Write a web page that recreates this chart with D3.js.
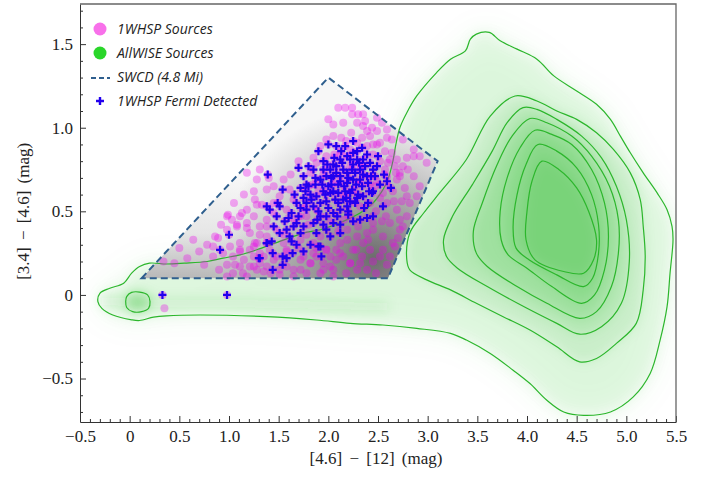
<!DOCTYPE html>
<html>
<head>
<meta charset="utf-8">
<script src="https://cdn.jsdelivr.net/npm/d3@7"></script>
<style>
body { margin: 0; background: #fff; }
.legend text { font-family: "Open Sans", sans-serif; font-style: italic; font-size: 14px; fill: #222; }
</style>
</head>
<body>
<div id="chart"></div>
<script>
// SWCD wedge vertices ([4.6]-[12], [3.4]-[4.6])
var swcd = [[0.12, 0.1], [2.0, 1.3], [3.1, 0.8], [2.6, 0.1]];

// AllWISE density contours, outermost first
var contourOuter = [[-0.30, 0.01], [-0.20, 0.04], [-0.06, 0.07], [0.02, 0.13], [0.10, 0.17], [0.20, 0.19], [0.37, 0.185],
  [0.55, 0.19], [0.78, 0.20], [0.94, 0.22], [1.11, 0.24], [1.28, 0.27], [1.51, 0.32], [1.75, 0.37], [1.92, 0.39],
  [2.15, 0.44], [2.32, 0.49], [2.45, 0.55], [2.55, 0.63], [2.60, 0.69], [2.65, 0.80], [2.68, 0.90], [2.72, 1.00],
  [2.79, 1.09], [2.89, 1.19], [3.09, 1.33], [3.23, 1.41], [3.38, 1.46], [3.43, 1.53], [3.49, 1.56], [3.62, 1.57],
  [3.73, 1.52], [3.90, 1.47], [4.10, 1.41], [4.27, 1.31], [4.50, 1.22], [4.70, 1.14], [4.84, 1.05], [4.94, 0.95],
  [5.04, 0.85], [5.17, 0.73], [5.31, 0.61], [5.41, 0.51], [5.46, 0.41], [5.47, 0.33], [5.44, 0.13], [5.41, -0.07],
  [5.34, -0.27], [5.24, -0.47], [5.07, -0.61], [4.84, -0.70], [4.57, -0.72], [4.37, -0.70], [4.20, -0.63],
  [4.03, -0.53], [3.86, -0.45], [3.63, -0.35], [3.39, -0.27], [3.23, -0.23], [2.89, -0.20], [2.55, -0.18],
  [2.22, -0.17], [1.88, -0.15], [1.38, -0.13], [0.71, -0.12], [0.37, -0.125], [0.24, -0.133], [0.10, -0.153],
  [0.02, -0.149], [-0.17, -0.12], [-0.28, -0.08], [-0.32, -0.04]];
var contourBlob = [[-0.03, -0.01], [0.02, 0.015], [0.10, 0.017], [0.18, 0.0], [0.205, -0.04], [0.19, -0.08],
  [0.12, -0.10], [0.03, -0.10], [-0.03, -0.075], [-0.04, -0.04]];
var contour2 = [[3.88, 1.19], [3.63, 1.07], [3.39, 0.81], [3.12, 0.61], [2.96, 0.49], [2.82, 0.37], [2.79, 0.21],
  [2.82, 0.15], [2.99, 0.09], [3.23, 0.03], [3.49, -0.05], [3.76, -0.13], [4.03, -0.21], [4.30, -0.31], [4.53, -0.40],
  [4.70, -0.38], [4.90, -0.29], [5.10, -0.17], [5.17, 0.03], [5.19, 0.23], [5.17, 0.41], [5.14, 0.57], [5.04, 0.73],
  [4.87, 0.87], [4.70, 0.97], [4.50, 1.05], [4.30, 1.10], [4.10, 1.16]];
var contour3 = [[3.96, 1.12], [3.80, 1.03], [3.65, 0.86], [3.45, 0.66], [3.25, 0.47], [3.16, 0.33], [3.19, 0.23],
  [3.30, 0.16], [3.60, 0.05], [4.00, -0.08], [4.30, -0.17], [4.53, -0.235], [4.75, -0.19], [4.95, -0.05],
  [5.03, 0.20], [5.00, 0.45], [4.90, 0.65], [4.75, 0.82], [4.55, 0.95], [4.30, 1.05], [4.10, 1.11]];
var contour4 = [[4.03, 1.055], [3.85, 0.95], [3.70, 0.78], [3.55, 0.55], [3.46, 0.38], [3.49, 0.25], [3.60, 0.17],
  [3.90, 0.05], [4.20, -0.05], [4.53, -0.14], [4.70, -0.10], [4.85, 0.05], [4.92, 0.25], [4.92, 0.45], [4.83, 0.65],
  [4.65, 0.83], [4.45, 0.95], [4.20, 1.03]];
var contour5 = [[4.08, 0.985], [3.93, 0.88], [3.80, 0.70], [3.73, 0.50], [3.74, 0.33], [3.81, 0.24], [4.00, 0.16],
  [4.25, 0.05], [4.55, -0.05], [4.68, 0.0], [4.78, 0.15], [4.82, 0.35], [4.78, 0.55], [4.65, 0.75], [4.45, 0.90],
  [4.25, 0.96]];
var contour6 = [[4.11, 0.90], [3.99, 0.78], [3.90, 0.60], [3.86, 0.40], [3.89, 0.28], [4.02, 0.21], [4.30, 0.12],
  [4.57, 0.05], [4.66, 0.10], [4.72, 0.25], [4.72, 0.42], [4.65, 0.60], [4.50, 0.76], [4.30, 0.86]];
var contour7 = [[4.15, 0.80], [4.05, 0.68], [4.00, 0.50], [3.99, 0.33], [4.08, 0.21], [4.37, 0.14], [4.57, 0.13],
  [4.67, 0.21], [4.70, 0.33], [4.62, 0.50], [4.50, 0.64], [4.32, 0.75]];
var contoursInner = [contour2, contour3, contour4, contour5, contour6, contour7];
// dense ridge of the stellar tail along the bottom of the plot
var tailRidge = [[-0.28, -0.04], [0.3, -0.05], [1.0, -0.05], [1.8, -0.06], [2.6, -0.07]];

// 1WHSP sources (not Fermi detected)
var whsp = [[2.10, 1.12], [2.17, 1.12], [2.24, 1.08], [2.35, 1.08], [2.37, 1.04], [2.35, 1.01], [2.39, 0.98],
  [2.42, 0.95], [2.49, 0.98], [2.54, 1.03], [2.59, 0.94], [2.64, 0.93], [2.52, 0.91], [2.45, 0.90], [2.29, 0.91],
  [2.23, 0.97], [2.18, 0.92], [2.13, 0.94], [2.22, 0.87], [2.57, 0.86], [2.64, 0.85], [2.62, 0.81], [2.69, 0.81],
  [2.67, 0.77], [2.75, 0.77], [2.72, 0.73], [2.80, 0.75], [2.86, 0.71], [2.69, 0.69], [2.59, 0.71], [2.57, 0.75],
  [2.77, 0.64], [2.65, 0.62], [2.74, 0.56], [2.59, 0.55], [2.69, 0.51], [2.79, 0.47], [2.75, 0.41], [2.72, 0.39],
  [2.62, 0.43], [2.54, 0.44], [2.45, 0.39], [2.55, 0.35], [2.65, 0.31], [2.70, 0.34], [2.67, 0.29], [2.62, 0.23],
  [2.59, 0.18], [2.52, 0.23], [2.42, 0.27], [2.35, 0.31], [2.29, 0.35], [2.19, 0.33], [2.25, 0.27], [2.34, 0.23],
  [2.29, 0.15], [2.39, 0.15], [2.22, 0.19], [2.15, 0.23], [2.08, 0.27], [2.02, 0.23], [2.05, 0.15], [1.95, 0.19],
  [1.88, 0.23], [1.82, 0.19], [1.72, 0.21], [1.65, 0.15], [1.58, 0.17], [1.51, 0.15], [1.38, 0.17], [1.31, 0.19],
  [1.25, 0.23], [1.21, 0.27], [1.28, 0.31], [1.38, 0.35], [1.48, 0.39], [1.21, 0.37], [1.11, 0.31], [1.01, 0.29],
  [0.94, 0.25], [0.84, 0.23], [0.89, 0.34], [0.98, 0.39], [1.08, 0.41], [1.18, 0.43], [1.25, 0.47], [1.31, 0.41],
  [1.38, 0.45], [1.45, 0.49], [1.33, 0.54], [1.26, 0.57], [1.18, 0.51], [1.11, 0.47], [1.03, 0.45], [0.98, 0.47],
  [1.38, 0.41], [1.55, 0.31], [1.58, 0.26], [1.48, 0.23], [1.41, 0.27], [1.72, 0.33], [1.78, 0.36], [1.85, 0.31],
  [1.98, 0.27], [2.12, 0.31], [1.92, 0.35], [2.19, 0.39], [2.39, 0.37], [2.45, 0.43], [2.72, 0.45], [2.82, 0.55],
  [2.89, 0.59], [2.92, 0.65], [2.79, 0.59], [1.51, 0.59], [1.45, 0.55], [1.55, 0.69], [1.61, 0.63], [1.38, 0.63],
  [1.31, 0.75], [1.18, 0.73], [1.28, 0.69], [1.82, 0.73], [1.88, 0.79], [1.98, 0.83], [1.92, 0.89], [2.12, 0.85],
  [2.22, 0.77], [2.39, 0.89], [2.45, 0.84], [2.32, 0.67], [2.47, 0.65], [2.55, 0.61], [2.42, 0.55], [2.32, 0.53],
  [2.22, 0.47], [1.88, 0.51], [1.78, 0.47], [1.72, 0.47], [1.58, 0.51], [1.65, 0.57], [2.75, 0.93], [2.86, 0.87],
  [2.92, 0.83], [2.99, 0.79], [2.59, 0.99], [2.49, 1.06], [2.29, 1.03], [2.05, 0.95], [1.98, 0.93], [2.15, 1.03],
  [2.24, 1.12], [2.34, 0.94], [2.49, 0.90], [2.79, 0.82], [2.86, 0.83], [2.72, 0.71], [2.49, 0.68], [2.42, 0.66],
  [0.64, 0.33], [0.99, 0.48], [1.13, 0.49], [0.34, 0.20], [0.86, 0.35], [1.28, 0.54], [1.08, 0.42], [1.18, 0.40],
  [1.11, 0.26], [1.26, 0.31], [1.31, 0.36], [1.21, 0.17], [1.28, 0.15], [1.14, 0.13], [0.98, 0.11], [1.06, 0.18],
  [0.84, 0.29], [1.04, 0.23], [1.11, 0.17], [1.25, 0.17], [1.35, 0.14], [1.45, 0.21], [1.31, 0.25], [1.72, 0.15],
  [1.82, 0.19], [1.92, 0.13], [2.02, 0.17], [2.12, 0.25], [2.22, 0.19], [2.05, 0.11], [1.65, 0.11], [1.51, 0.12],
  [1.18, 0.11], [1.04, 0.13], [0.98, 0.18], [1.11, 0.27], [1.25, 0.29], [1.58, 0.27], [1.75, 0.23], [1.85, 0.25],
  [1.98, 0.27], [0.35, -0.08],
  [1.95, 0.72], [2.06, 0.67], [2.15, 0.60], [2.27, 0.62], [2.33, 0.77], [2.20, 0.83], [2.06, 0.84], [1.90, 0.62],
  [1.84, 0.66], [1.76, 0.52], [1.66, 0.45], [2.02, 0.44], [2.16, 0.45], [2.30, 0.41], [2.48, 0.50], [2.58, 0.47],
  [2.66, 0.56], [2.52, 0.58], [2.60, 0.65], [2.68, 0.73], [2.60, 0.79], [2.52, 0.80], [2.44, 1.00], [2.30, 1.08],
  [2.05, 1.02], [2.00, 1.05], [1.85, 0.82], [1.70, 0.80], [1.62, 0.72], [1.45, 0.65], [1.40, 0.70], [1.25, 0.62],
  [1.15, 0.60], [1.05, 0.55], [0.92, 0.42], [0.78, 0.30], [0.70, 0.26], [0.58, 0.22], [0.50, 0.28], [0.45, 0.19],
  [1.70, 0.28], [1.88, 0.28], [2.08, 0.21], [2.18, 0.13], [2.32, 0.19], [2.45, 0.20], [2.48, 0.13], [2.55, 0.27],
  [2.40, 0.33], [2.28, 0.27], [1.95, 0.15], [1.78, 0.13], [1.42, 0.13], [1.35, 0.23], [1.15, 0.21], [0.90, 0.15],
  [0.75, 0.18], [2.10, 0.38], [1.80, 0.42], [1.55, 0.36]];

// 1WHSP sources detected by Fermi
var fermi = [[1.90, 0.86], [2.08, 0.89], [2.17, 0.89], [2.34, 0.88], [2.50, 0.83], [1.70, 0.76], [1.80, 0.77],
  [1.39, 0.72], [1.54, 0.63], [1.75, 0.71], [1.78, 0.66], [1.72, 0.64], [1.87, 0.66], [1.95, 0.75], [2.02, 0.75],
  [2.08, 0.77], [2.12, 0.81], [2.19, 0.83], [2.25, 0.85], [2.29, 0.81], [2.35, 0.81], [2.39, 0.84], [2.42, 0.79],
  [2.45, 0.75], [2.49, 0.77], [2.32, 0.75], [2.24, 0.75], [2.19, 0.73], [2.12, 0.71], [2.05, 0.71], [1.98, 0.71],
  [1.92, 0.69], [2.03, 0.66], [2.10, 0.66], [2.19, 0.67], [2.25, 0.69], [2.32, 0.69], [2.39, 0.71], [2.40, 0.67],
  [2.34, 0.65], [2.24, 0.63], [2.17, 0.62], [2.10, 0.61], [2.02, 0.61], [1.95, 0.62], [1.88, 0.59], [1.82, 0.60],
  [1.75, 0.58], [1.68, 0.55], [1.63, 0.49], [1.70, 0.47], [1.78, 0.51], [1.85, 0.53], [1.92, 0.55], [1.98, 0.56],
  [2.07, 0.57], [2.15, 0.57], [2.22, 0.56], [2.29, 0.58], [2.35, 0.59], [2.44, 0.61], [2.52, 0.66], [2.59, 0.68],
  [2.63, 0.64], [1.68, 0.43], [1.75, 0.41], [1.85, 0.43], [1.92, 0.47], [1.98, 0.47], [2.05, 0.49], [2.12, 0.51],
  [2.20, 0.50], [2.05, 0.43], [2.12, 0.42], [2.25, 0.44], [2.32, 0.45], [2.39, 0.46], [2.45, 0.47], [2.55, 0.53],
  [1.65, 0.41], [1.72, 0.37], [1.88, 0.37], [1.98, 0.39], [1.61, 0.35], [1.51, 0.53], [1.49, 0.55], [1.41, 0.51],
  [1.38, 0.31], [1.43, 0.32], [1.51, 0.37], [1.58, 0.39], [1.00, 0.36], [0.91, 0.27], [1.31, 0.22], [1.44, 0.25],
  [1.54, 0.23], [1.44, 0.15], [1.82, 0.30], [1.92, 0.29], [1.68, 0.30], [1.63, 0.32], [1.75, 0.26], [2.02, 0.35],
  [2.12, 0.37], [1.48, 0.47], [1.56, 0.44], [0.33, 0.0], [0.98, 0.0], [1.38, 0.31], [1.64, 0.25], [1.90, 0.29],
  [1.93, 0.23], [1.58, 0.22], [1.54, 0.18], [1.30, 0.22], [1.85, 0.75], [1.95, 0.80], [2.00, 0.65], [2.05, 0.78],
  [2.15, 0.75], [2.20, 0.70], [2.25, 0.78], [2.30, 0.60], [2.35, 0.72], [2.10, 0.55], [1.80, 0.65], [1.90, 0.50],
  [2.00, 0.52], [2.20, 0.48], [2.40, 0.55], [1.95, 0.42], [2.05, 0.62], [2.12, 0.68], [2.28, 0.66], [2.18, 0.58],
  [1.87, 0.70], [2.45, 0.62], [2.00, 0.90], [2.25, 0.92], [1.78, 0.55], [1.38, 0.53],
  [1.97, 0.60], [2.03, 0.70], [2.08, 0.73], [2.14, 0.79], [2.22, 0.81], [2.27, 0.73], [2.31, 0.79], [2.37, 0.77],
  [2.43, 0.71], [2.16, 0.65], [2.22, 0.61], [2.27, 0.55], [2.09, 0.47], [1.89, 0.45], [1.83, 0.57], [1.77, 0.62],
  [2.13, 0.86], [2.29, 0.86], [2.41, 0.62], [2.47, 0.71], [1.94, 0.66], [2.06, 0.82], [1.99, 0.78], [2.19, 0.53],
  [2.36, 0.52], [1.72, 0.52], [1.66, 0.60], [2.56, 0.72], [1.45, 0.41], [1.60, 0.46]];

var xTicks = [-0.5, 0, 0.5, 1.0, 1.5, 2.0, 2.5, 3.0, 3.5, 4.0, 4.5, 5.0, 5.5];
var yTicks = [-0.5, 0, 0.5, 1.0, 1.5];
var legendLabels = ["1WHSP Sources", "AllWISE Sources", "SWCD (4.8 Mi)", "1WHSP Fermi Detected"];

var W = 711, H = 479;
var margin = {top: 4, right: 35, bottom: 57, left: 80},
    width = W - margin.left - margin.right,
    height = H - margin.top - margin.bottom;
var serif = "'Liberation Serif', 'DejaVu Serif', serif";

var svg = d3.select("#chart").append("svg").attr("width", W).attr("height", H);

var x = d3.scaleLinear().domain([-0.5, 5.5]).range([0, width]),
    y = d3.scaleLinear().domain([-0.76, 1.74]).range([height, 0]);

var defs = svg.append("defs");
defs.append("clipPath").attr("id", "clip")
  .append("rect").attr("width", width).attr("height", height);
defs.append("filter").attr("id", "haze")
    .attr("x", "-20%").attr("y", "-20%").attr("width", "140%").attr("height", "140%")
  .append("feGaussianBlur").attr("stdDeviation", 6);
defs.append("filter").attr("id", "wide")
    .attr("x", "-30%").attr("y", "-30%").attr("width", "160%").attr("height", "160%")
  .append("feGaussianBlur").attr("stdDeviation", 16);

var gV = defs.append("linearGradient").attr("id", "swcdV")
    .attr("gradientUnits", "userSpaceOnUse")
    .attr("x1", 0).attr("x2", 0).attr("y1", y(0.1)).attr("y2", y(0.7));
gV.append("stop").attr("offset", 0).attr("stop-color", "#b8b8b8");
gV.append("stop").attr("offset", 0.45).attr("stop-color", "#e6e6e6");
gV.append("stop").attr("offset", 1).attr("stop-color", "#f7f7f7");

var gR = defs.append("radialGradient").attr("id", "swcdR")
    .attr("gradientUnits", "userSpaceOnUse")
    .attr("cx", x(2.45)).attr("cy", y(0.22)).attr("r", 150);
gR.append("stop").attr("offset", 0).attr("stop-color", "#6c6c6c").attr("stop-opacity", 1);
gR.append("stop").attr("offset", 0.45).attr("stop-color", "#8a8a8a").attr("stop-opacity", 0.65);
gR.append("stop").attr("offset", 1).attr("stop-color", "#9a9a9a").attr("stop-opacity", 0);

var plot = svg.append("g")
    .attr("transform", "translate(" + margin.left + "," + margin.top + ")");
var inner = plot.append("g").attr("clip-path", "url(#clip)");

// note: "closed" is a window property, so use another name
var ring = d3.line()
    .curve(d3.curveCatmullRomClosed.alpha(0.5))
    .x(function(d) { return x(d[0]); })
    .y(function(d) { return y(d[1]); });
var poly = d3.line()
    .curve(d3.curveLinearClosed)
    .x(function(d) { return x(d[0]); })
    .y(function(d) { return y(d[1]); });
var open = d3.line()
    .curve(d3.curveCatmullRom)
    .x(function(d) { return x(d[0]); })
    .y(function(d) { return y(d[1]); });

// green density haze
inner.append("path").datum(contourOuter).attr("d", ring)
    .attr("filter", "url(#wide)")
    .attr("fill", "#22b822").attr("fill-opacity", 0.07);
var haze = inner.append("g").attr("filter", "url(#haze)");
haze.append("path").datum(contourOuter).attr("d", ring)
    .attr("fill", "#22b822").attr("fill-opacity", 0.07);
haze.append("path").datum(tailRidge).attr("d", open)
    .attr("fill", "none").attr("stroke", "#22b822").attr("stroke-opacity", 0.13).attr("stroke-width", 10);
haze.append("path").datum(contourBlob).attr("d", ring)
    .attr("fill", "#22b822").attr("fill-opacity", 0.3);
haze.selectAll(".band").data(contoursInner).enter().append("path")
    .attr("class", "band").attr("d", ring)
    .attr("fill", "#1db41d").attr("fill-opacity", 0.12);

// SWCD grey density
inner.append("path").datum(swcd).attr("d", poly).attr("fill", "url(#swcdV)");
inner.append("path").datum(swcd).attr("d", poly).attr("fill", "url(#swcdR)");

// contour lines
inner.selectAll(".contour")
    .data([contourOuter, contourBlob].concat(contoursInner))
  .enter().append("path")
    .attr("class", "contour")
    .attr("d", ring)
    .attr("fill", "none")
    .attr("stroke", "#2cb62c")
    .attr("stroke-width", 1.2);

// 1WHSP sources (Fermi ones are also 1WHSP)
inner.selectAll(".whsp").data(whsp.concat(fermi)).enter().append("circle")
    .attr("class", "whsp")
    .attr("cx", function(d) { return x(d[0]); })
    .attr("cy", function(d) { return y(d[1]); })
    .attr("r", 4)
    .attr("fill", "#ee00ee")
    .attr("fill-opacity", 0.33);

var plus = "M-4,0H4M0,-4V4";
inner.selectAll(".fermi").data(fermi).enter().append("path")
    .attr("class", "fermi")
    .attr("transform", function(d) { return "translate(" + x(d[0]) + "," + y(d[1]) + ")"; })
    .attr("d", plus)
    .attr("stroke", "#2200ee")
    .attr("stroke-width", 2.2);

// SWCD outline
inner.append("path").datum(swcd).attr("d", poly)
    .attr("fill", "none")
    .attr("stroke", "#2f5f8e")
    .attr("stroke-width", 2)
    .attr("stroke-dasharray", "7,4");

// axes
function fmt(d) { return d === 0 ? "0" : d3.format(".1f")(d).replace("-", "\u2212"); }
function minor(dom, majors) {
  var out = [];
  for (var i = Math.ceil(dom[0] * 10); i <= Math.floor(dom[1] * 10); i++) {
    var v = i / 10;
    if (!majors.some(function(m) { return Math.abs(m - v) < 1e-6; })) out.push(v);
  }
  return out;
}

plot.append("g").attr("transform", "translate(0," + height + ")")
    .call(d3.axisBottom(x).tickValues(minor(x.domain(), xTicks)).tickSize(-3).tickSizeOuter(0).tickFormat(""))
    .call(function(g) { g.select(".domain").remove(); });
plot.append("g").call(d3.axisLeft(y).tickValues(minor(y.domain(), yTicks)).tickSize(-3).tickSizeOuter(0).tickFormat(""))
    .call(function(g) { g.select(".domain").remove(); });

var xAxis = plot.append("g").attr("transform", "translate(0," + height + ")")
    .call(d3.axisBottom(x).tickValues(xTicks).tickFormat(fmt).tickSize(-6).tickSizeOuter(0).tickPadding(8));
var yAxis = plot.append("g")
    .call(d3.axisLeft(y).tickValues(yTicks).tickFormat(fmt).tickSize(-6).tickSizeOuter(0).tickPadding(7));
plot.selectAll(".tick line").attr("stroke", "#333");
plot.selectAll(".tick text")
    .style("font-family", serif).style("font-size", "17px").attr("fill", "#222");
xAxis.select(".domain").attr("stroke", "#333");
yAxis.select(".domain").attr("stroke", "#333");

plot.append("path")
    .attr("d", "M0,0H" + width + "V" + height)
    .attr("fill", "none").attr("stroke", "#666").attr("stroke-width", 1.3);

svg.append("text")
    .attr("x", margin.left + width / 2 - 2).attr("y", 464)
    .attr("text-anchor", "middle")
    .style("font-family", serif).style("font-size", "17px").style("word-spacing", "3px").attr("fill", "#222")
    .text("[4.6] \u2212 [12] (mag)");
svg.append("text")
    .attr("transform", "translate(29," + (margin.top + y(0.5)) + ") rotate(-90)")
    .attr("text-anchor", "middle")
    .style("font-family", serif).style("font-size", "17px").style("word-spacing", "3px").attr("fill", "#222")
    .text("[3.4] \u2212 [4.6] (mag)");

// legend
var legend = plot.append("g").attr("class", "legend").attr("transform", "translate(20,25)");
var rows = legend.selectAll("g").data(legendLabels).enter().append("g")
    .attr("transform", function(d, i) { return "translate(0," + (i * 24) + ")"; });
rows.append("text").attr("x", 17).attr("y", 5).text(function(d) { return d; });
rows.filter(function(d, i) { return i === 0; }).append("circle").attr("r", 6.5).attr("fill", "#f870ea");
rows.filter(function(d, i) { return i === 1; }).append("circle").attr("r", 6.5).attr("fill", "#2ad62a");
rows.filter(function(d, i) { return i === 2; }).append("line")
    .attr("x1", -9).attr("x2", 10).attr("y1", 1).attr("y2", 1)
    .attr("stroke", "#2f5f8e").attr("stroke-width", 2).attr("stroke-dasharray", "5,3");
rows.filter(function(d, i) { return i === 3; }).append("path")
    .attr("d", plus).attr("stroke", "#2200ee").attr("stroke-width", 2.4);
</script>
</body>
</html>
